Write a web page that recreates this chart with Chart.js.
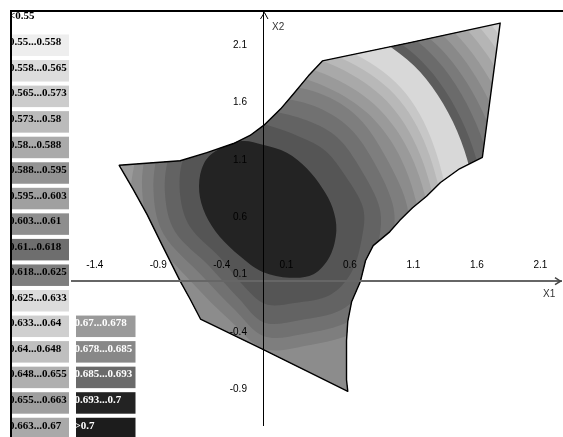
<!DOCTYPE html>
<html><head><meta charset="utf-8">
<script src="https://cdn.jsdelivr.net/npm/chart.js@4.4.1/dist/chart.umd.min.js"></script>
<style>html,body{margin:0;padding:0;background:#fff;}canvas{display:block;}</style>
</head><body>
<canvas id="c" width="563" height="437"></canvas>
<script>
// ---- axes ----
const xTickValues = [-1.4, -0.9, -0.4, 0.1, 0.6, 1.1, 1.6, 2.1];
const xTickLabels = ["-1.4", "-0.9", "-0.4", "\u00a00.1", "\u00a00.6", "\u00a01.1", "\u00a01.6", "\u00a02.1"];
const yTickValues = [-0.9, -0.4, 0.1, 0.6, 1.1, 1.6, 2.1];
const yTickLabels = ["-0.9", "-0.4", "0.1", "0.6", "1.1", "1.6", "2.1"];
const axisTitles = {x: "X1", y: "X2"};

// ---- legend ----
const legendCol1Labels = ["<0.55", "0.55...0.558", "0.558...0.565", "0.565...0.573", "0.573...0.58", "0.58...0.588", "0.588...0.595", "0.595...0.603", "0.603...0.61", "0.61...0.618", "0.618...0.625", "0.625...0.633", "0.633...0.64", "0.64...0.648", "0.648...0.655", "0.655...0.663", "0.663...0.67"];
const legendCol1Colors = ["#ffffff", "#eeeeee", "#dddddd", "#cccccc", "#bbbbbb", "#aaaaaa", "#939393", "#a0a0a0", "#8e8e8e", "#6e6e6e", "#7e7e7e", "#dcdcdc", "#cfcfcf", "#bfbfbf", "#afafaf", "#9f9f9f", "#a9a9a9"];
const legendCol2Labels = ["0.67...0.678", "0.678...0.685", "0.685...0.693", "0.693...0.7", ">0.7"];
const legendCol2Colors = ["#9a9a9a", "#888888", "#6a6a6a", "#232323", "#1c1c1c"];

// ---- domain boundary (X1, X2) ----
const regionBoundary = [
 [-1.14,1.01],[-0.90,1.03],[-0.66,1.05],[-0.45,1.12],[-0.24,1.20],[-0.11,1.27],[0.00,1.36],[0.13,1.50],[0.23,1.63],[0.35,1.79],[0.46,1.92],
 [1.15,2.08],[1.86,2.25],[1.72,1.08],[1.54,0.98],[1.39,0.86],[1.28,0.74],[1.17,0.64],[1.07,0.53],[0.99,0.43],[0.86,0.31],[0.80,0.18],
 [0.76,0.00],[0.69,-0.18],[0.66,-0.35],[0.65,-0.52],[0.65,-0.69],[0.65,-0.86],[0.66,-0.96],[0.00,-0.60],[-0.50,-0.33],[-0.58,-0.16],
 [-0.66,0.00],[-0.80,0.31],[-0.92,0.58],[-1.03,0.80]
];
const regionColor = "#d4d4d4";

// ---- contour lines (X1, X2) ----
const contourCore = [[0.54,0.64],[0.57,0.44],[0.52,0.22],[0.39,0.06],[0.20,0.03],[-0.01,0.08],[-0.19,0.22],[-0.35,0.39],[-0.46,0.58],
                     [-0.51,0.78],[-0.49,0.98],[-0.40,1.12],[-0.19,1.22],[-0.01,1.19],[0.18,1.12],[0.34,0.98],[0.46,0.81]];
const contour1 = [[0.78,0.64],[0.77,0.37],[0.69,0.08],[0.52,-0.12],[0.24,-0.19],[0.01,-0.20],[-0.17,-0.03],[-0.35,0.21],[-0.58,0.47],
                  [-0.66,0.75],[-0.64,1.05],[-0.50,1.26],[-0.23,1.42],[0.03,1.36],[0.28,1.26],[0.48,1.14],[0.64,0.92]];
const contour2 = [[0.91,0.64],[0.90,0.33],[0.80,-0.02],[0.61,-0.25],[0.28,-0.34],[0.00,-0.36],[-0.20,-0.15],[-0.43,0.13],[-0.70,0.43],
                  [-0.78,0.77],[-0.74,1.11],[-0.58,1.36],[-0.27,1.53],[0.03,1.49],[0.34,1.40],[0.58,1.25],[0.76,0.98]];
const contour3 = [[1.02,0.64],[1.00,0.29],[0.89,-0.09],[0.67,-0.35],[0.31,-0.46],[0.00,-0.48],[-0.23,-0.25],[-0.49,0.05],[-0.79,0.41],
                  [-0.87,0.79],[-0.82,1.17],[-0.65,1.43],[-0.30,1.63],[0.03,1.61],[0.39,1.53],[0.67,1.34],[0.87,1.03]];
const contour4 = [[1.13,0.64],[1.10,0.26],[0.97,-0.16],[0.72,-0.44],[0.34,-0.56],[0.00,-0.59],[-0.26,-0.35],[-0.56,-0.02],[-0.87,0.39],
                  [-0.96,0.81],[-0.90,1.21],[-0.70,1.50],[-0.33,1.72],[0.03,1.72],[0.43,1.64],[0.74,1.43],[0.96,1.08]];
const contour5 = [[1.21,0.64],[0.81,1.47],[0.03,1.82],[-0.80,1.54],[-1.06,0.64],[-0.86,-0.32],[0.03,-1.31],[1.23,-0.65]];
const contour6 = [[1.29,0.64],[0.87,1.54],[0.03,1.92],[-0.87,1.61],[-1.15,0.64],[-0.92,-0.38],[0.03,-1.40],[1.28,-0.71]];
const contour7 = [[1.35,0.64],[0.93,1.61],[0.03,2.02],[-0.93,1.67],[-1.24,0.64],[-0.97,-0.44],[0.03,-1.48],[1.34,-0.77]];
const contour8 = [[1.41,0.64],[0.99,1.67],[0.03,2.10],[-0.99,1.73],[-1.32,0.64],[-1.03,-0.50],[0.03,-1.57],[1.40,-0.83]];
const contour9 = [[1.46,0.64],[1.04,1.73],[0.03,2.18],[-1.04,1.79],[-1.39,0.64],[-1.08,-0.56],[0.03,-1.65],[1.45,-0.89]];
const contour10 = [[1.66,0.64],[1.18,1.88],[0.03,2.39],[-1.12,1.88],[-1.60,0.64],[-1.12,-0.61],[0.03,-1.12],[1.18,-0.61]];
const contour11 = [[1.73,0.64],[1.23,1.93],[0.03,2.47],[-1.17,1.93],[-1.67,0.64],[-1.17,-0.66],[0.03,-1.20],[1.23,-0.66]];
const contour12 = [[1.82,0.64],[1.30,2.00],[0.03,2.56],[-1.23,2.00],[-1.76,0.64],[-1.23,-0.72],[0.03,-1.29],[1.30,-0.72]];
const contour13 = [[1.91,0.64],[1.36,2.06],[0.03,2.65],[-1.29,2.06],[-1.84,0.64],[-1.29,-0.79],[0.03,-1.38],[1.36,-0.79]];
const contour14 = [[1.99,0.64],[1.42,2.13],[0.03,2.75],[-1.36,2.13],[-1.93,0.64],[-1.36,-0.86],[0.03,-1.47],[1.42,-0.86]];
const contour15 = [[2.08,0.64],[1.48,2.19],[0.03,2.84],[-1.42,2.19],[-2.02,0.64],[-1.42,-0.92],[0.03,-1.57],[1.48,-0.92]];
const contour16 = [[2.17,0.64],[1.54,2.26],[0.03,2.93],[-1.48,2.26],[-2.10,0.64],[-1.48,-0.99],[0.03,-1.66],[1.54,-0.99]];
const contour17 = [[2.25,0.64],[1.60,2.33],[0.03,3.03],[-1.54,2.33],[-2.19,0.64],[-1.54,-1.05],[0.03,-1.75],[1.60,-1.05]];
const contour18 = [[2.34,0.64],[1.66,2.39],[0.03,3.12],[-1.60,2.39],[-2.28,0.64],[-1.60,-1.12],[0.03,-1.85],[1.66,-1.12]];

// painted from the outermost band to the innermost one
const bandContours = [contour18, contour17, contour16, contour15, contour14, contour13, contour12, contour11, contour10,
                      contour9, contour8, contour7, contour6, contour5, contour4, contour3, contour2, contour1, contourCore];
const bandColors = ["#c4c4c4", "#b5b5b5", "#a6a6a6", "#979797", "#898989", "#7a7a7a", "#6b6b6b", "#5c5c5c", "#d8d8d8",
                    "#c7c7c7", "#b8b8b8", "#a9a9a9", "#9a9a9a", "#8c8c8c", "#7e7e7e", "#717171", "#636363", "#555555", "#232323"];

const toXY = arr => arr.map(p => ({x: p[0], y: p[1]}));

const datasets = [{label: 'region', role: 'region', data: toXY(regionBoundary), backgroundColor: regionColor,
                   borderColor: '#000', pointRadius: 0, pointHoverRadius: 0, showLine: false}];
bandContours.forEach((c, i) => datasets.push({label: 'band' + i, role: 'band', data: toXY(c), backgroundColor: bandColors[i],
                   pointRadius: 0, pointHoverRadius: 0, showLine: false}));

function smoothClosed(ctx, pts) {
  const n = pts.length;
  ctx.moveTo(pts[0][0], pts[0][1]);
  for (let i = 0; i < n; i++) {
    const p0 = pts[(i - 1 + n) % n], p1 = pts[i], p2 = pts[(i + 1) % n], p3 = pts[(i + 2) % n];
    ctx.bezierCurveTo(p1[0] + (p2[0] - p0[0]) / 6, p1[1] + (p2[1] - p0[1]) / 6,
                      p2[0] - (p3[0] - p1[0]) / 6, p2[1] - (p3[1] - p1[1]) / 6, p2[0], p2[1]);
  }
  ctx.closePath();
}

const contourPlugin = {
  id: 'contourFill',
  beforeDatasetsDraw(chart) {
    const {ctx, scales: {x, y}} = chart;
    const px = p => [x.getPixelForValue(p.x), y.getPixelForValue(p.y)];
    const ds = chart.data.datasets;
    const region = ds.find(d => d.role === 'region');
    const rp = region.data.map(px);
    ctx.save();
    const regionPath = () => { ctx.beginPath(); rp.forEach((p, i) => i ? ctx.lineTo(p[0], p[1]) : ctx.moveTo(p[0], p[1])); ctx.closePath(); };
    regionPath();
    ctx.fillStyle = region.backgroundColor;
    ctx.fill();
    ctx.save();
    regionPath();
    ctx.clip();
    ds.filter(d => d.role === 'band').forEach(d => {
      ctx.beginPath();
      smoothClosed(ctx, d.data.map(px));
      ctx.fillStyle = d.backgroundColor;
      ctx.fill();
    });
    ctx.restore();
    regionPath();
    ctx.lineWidth = 1.4;
    ctx.lineJoin = 'round';
    ctx.strokeStyle = region.borderColor;
    ctx.stroke();
    ctx.restore();
  },
  afterDraw(chart) {
    const {ctx, scales: {x, y}, chartArea} = chart;
    const x0 = x.getPixelForValue(0), y0 = y.getPixelForValue(0);
    ctx.save();
    // arrow heads
    ctx.strokeStyle = '#000'; ctx.lineWidth = 1;
    ctx.beginPath(); ctx.moveTo(x0 - 3.5, chartArea.top + 9); ctx.lineTo(x0 + 0.5, chartArea.top + 2.5); ctx.lineTo(x0 + 4, chartArea.top + 9); ctx.stroke();
    ctx.strokeStyle = '#444'; ctx.lineWidth = 1.5;
    ctx.beginPath(); ctx.moveTo(chartArea.right - 6, y0 - 3.5); ctx.lineTo(chartArea.right - 0.5, y0); ctx.lineTo(chartArea.right - 6, y0 + 3.5); ctx.stroke();
    // axis titles
    ctx.font = "10px 'Liberation Sans', Arial, sans-serif";
    ctx.fillStyle = '#333'; ctx.textBaseline = 'middle'; ctx.textAlign = 'left';
    ctx.fillText(axisTitles.y, x0 + 8, chartArea.top + 17);
    ctx.fillText(axisTitles.x, chartArea.right - 18, y0 + 13);
    // legend
    ctx.fillStyle = '#fff'; ctx.fillRect(10, 10, 61, 427);
    ctx.font = "bold 11px 'Liberation Serif', 'Times New Roman', serif";
    ctx.textBaseline = 'middle'; ctx.textAlign = 'left';
    legendCol1Labels.forEach((lab, i) => {
      const top = i === 0 ? 5 : 34.5 + 25.55 * (i - 1), h = 21.5;
      ctx.fillStyle = legendCol1Colors[i]; ctx.fillRect(10, top, 59, h);
      ctx.save(); ctx.beginPath(); ctx.rect(10, top, 59, h); ctx.clip();
      ctx.fillStyle = '#000'; ctx.fillText(lab, 9, i === 0 ? 16 : top + 8); ctx.restore();
    });
    legendCol2Labels.forEach((lab, j) => {
      const i = 12 + j, top = 34.5 + 25.55 * (i - 1), h = 21.5;
      ctx.fillStyle = legendCol2Colors[j]; ctx.fillRect(76, top, 59.5, h);
      ctx.save(); ctx.beginPath(); ctx.rect(76, top, 59.5, h); ctx.clip();
      ctx.fillStyle = '#fff'; ctx.fillText(lab, 74.5, top + 8); ctx.restore();
    });
    // outer frame
    ctx.fillStyle = '#fff'; ctx.fillRect(0, 0, 563, 10); ctx.fillRect(0, 0, 10, 437);
    ctx.fillStyle = '#000'; ctx.fillRect(10, 10, 553, 2); ctx.fillRect(10, 10, 2, 427);
    ctx.restore();
  }
};

const tickFont = {family: "'Liberation Sans', Arial, sans-serif", size: 10};

new Chart(document.getElementById('c'), {
  type: 'scatter',
  data: {datasets},
  options: {
    responsive: false, animation: false, events: [],
    layout: {padding: {left: 10, top: 10, right: 2, bottom: 0}},
    plugins: {legend: {display: false}, tooltip: {enabled: false}},
    scales: {
      x: {type: 'linear', min: -2.0, max: 2.339, position: {y: 0},
          grid: {display: false, drawTicks: false}, border: {display: true, color: '#666', width: 2, z: 1},
          afterBuildTicks: s => { s.ticks = xTickValues.map(v => ({value: v})); },
          ticks: {z: 1, autoSkip: false, maxRotation: 0, minRotation: 0, align: 'start', padding: -22, color: '#000', font: tickFont,
                  callback: (v, i) => xTickLabels[i]}},
      y: {type: 'linear', min: -1.254, max: 2.364, position: {x: 0},
          grid: {display: false, drawTicks: false}, border: {display: true, color: '#000', width: 1, z: 1},
          ticks: {display: false}},
      yl: {type: 'linear', axis: 'y', min: -1.254, max: 2.364, position: {x: -0.134},
           grid: {display: false, drawTicks: false}, border: {display: false},
           afterBuildTicks: s => { s.ticks = yTickValues.map(v => ({value: v})); },
           ticks: {z: 1, autoSkip: false, align: 'start', padding: 0, color: '#000', font: tickFont,
                   callback: (v, i) => yTickLabels[i]}}
    }
  },
  plugins: [contourPlugin]
});
</script>
</body></html>
